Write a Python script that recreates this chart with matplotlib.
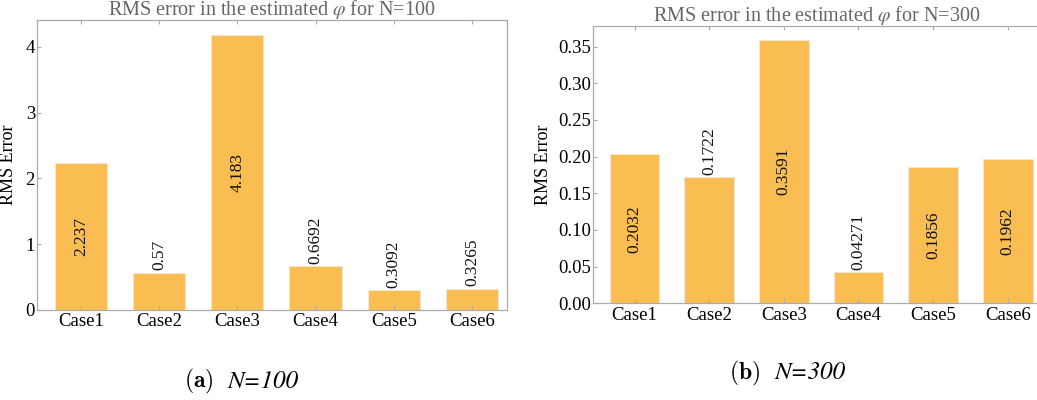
import numpy as np
import matplotlib
matplotlib.use('Agg')
import matplotlib.pyplot as plt

plt.rcParams['font.family'] = ['Liberation Serif', 'DejaVu Serif']
plt.rcParams['mathtext.fontset'] = 'stix'

# data
cases = ['Case1', 'Case2', 'Case3', 'Case4', 'Case5', 'Case6']
rms_n100 = [2.237, 0.57, 4.183, 0.6692, 0.3092, 0.3265]
rms_n300 = [0.2032, 0.1722, 0.3591, 0.04271, 0.1856, 0.1962]
labels_n100 = ['2.237', '0.57', '4.183', '0.6692', '0.3092', '0.3265']
labels_n300 = ['0.2032', '0.1722', '0.3591', '0.04271', '0.1856', '0.1962']

# which value labels sit inside the bar (rest go on top)
inside_n100 = [True, False, True, False, False, False]
inside_n300 = [True, False, True, False, True, True]

bar_col = '#F9BD52'
frame_col = '#ababab'

fig = plt.figure(figsize=(10.37, 4.0), dpi=100)
ax1 = fig.add_axes([0.0357, 0.225, 0.4532, 0.725])
ax2 = fig.add_axes([0.5716, 0.2418, 0.4323, 0.694])


def draw(ax, vals, labs, inside, ymax, yticks, ytlabels, title, ylab_x):
    x = np.arange(len(cases))
    bars = ax.bar(x, vals, width=0.667, color=bar_col, edgecolor='#f3e6cc', linewidth=0.8)
    ax.set_xlim(-0.56, 5.447)
    ax.set_ylim(0, ymax)
    for b, v, s, ins in zip(bars, vals, labs, inside):
        cx = b.get_x() + b.get_width() / 2
        if ins:
            ax.text(cx, v / 2, s, rotation=90, ha='center', va='center', fontsize=12.5, color='#111111')
        else:
            ax.annotate(s, (cx, v), xytext=(0, 1.5), textcoords='offset points',
                        rotation=90, ha='center', va='bottom', fontsize=12.5, color='#111111')
    ax.set_xticks(x)
    ax.set_xticklabels(cases, fontsize=13.5)
    ax.set_yticks(yticks)
    ax.set_yticklabels(ytlabels, fontsize=13.5)
    ax.tick_params(axis='x', direction='in', length=3, color=frame_col, top=True, pad=2.5)
    ax.tick_params(axis='y', direction='in', length=3, color=frame_col, pad=1.5)
    for sp in ax.spines.values():
        sp.set_color(frame_col)
        sp.set_linewidth(0.9)
    ax.set_title(title, fontsize=14.5, color='#666666', pad=3.5)
    ax.set_ylabel('RMS Error', fontsize=13)
    ax.yaxis.set_label_coords(ylab_x, 0.5)


draw(ax1, rms_n100, labels_n100, inside_n100, 4.41, [0, 1, 2, 3, 4], ['0', '1', '2', '3', '4'],
     r'RMS error in the estimated $\varphi$ for N=100', -0.043)
yt2 = [0, 0.05, 0.10, 0.15, 0.20, 0.25, 0.30, 0.35]
draw(ax2, rms_n300, labels_n300, inside_n300, 0.3786, yt2, ['%.2f' % v for v in yt2],
     r'RMS error in the estimated $\varphi$ for N=300', -0.092)

# sub-captions
fig.text(0.2055, 0.0458, r'$\mathbf{(a)}$', ha='right', va='center', fontsize=17, math_fontfamily='cm')
fig.text(0.219, 0.0458, 'N=100', ha='left', va='center', fontsize=18,
         family='STIXGeneral', style='italic')
fig.text(0.7335, 0.0675, r'$\mathbf{(b)}$', ha='right', va='center', fontsize=17, math_fontfamily='cm')
fig.text(0.747, 0.0675, 'N=300', ha='left', va='center', fontsize=18,
         family='STIXGeneral', style='italic')

fig.savefig('out.png', dpi=100)
